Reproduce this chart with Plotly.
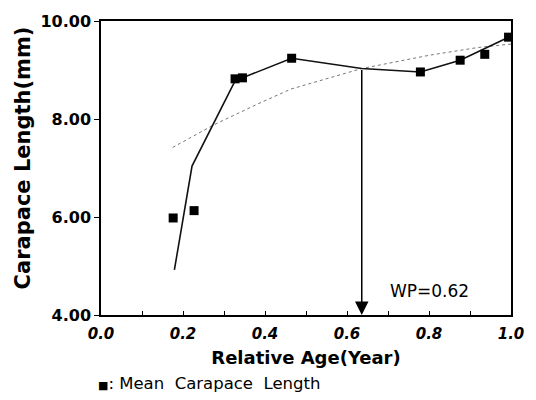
import plotly.graph_objects as go

# Mean carapace length observations
age = [0.176, 0.227, 0.327, 0.345, 0.465, 0.779, 0.876, 0.936, 0.994]
mean_cl = [5.98, 6.13, 8.82, 8.84, 9.24, 8.96, 9.20, 9.32, 9.67]

# Solid piecewise line
line_x = [0.179, 0.222, 0.327, 0.345, 0.465, 0.636, 0.779, 0.876, 0.994]
line_y = [4.92, 7.04, 8.78, 8.84, 9.24, 9.03, 8.96, 9.20, 9.67]

# Dotted growth curve
curve_x = [0.175, 0.275, 0.383, 0.463, 0.636, 0.80, 0.92, 1.0]
curve_y = [7.42, 7.88, 8.31, 8.61, 9.03, 9.30, 9.46, 9.53]

# Arrow / WP
wp_x = 0.636
wp_y_top = 9.03
wp_label = "WP=0.62"

y_ticks = [4.0, 6.0, 8.0, 10.0]
x_ticks = [0.0, 0.2, 0.4, 0.6, 0.8, 1.0]

FONT = "DejaVu Sans, Arial, sans-serif"

fig = go.Figure()
fig.add_trace(go.Scatter(x=curve_x, y=curve_y, mode="lines",
                         line=dict(color="#777777", width=1, dash="dot"),
                         showlegend=False, hoverinfo="skip"))
fig.add_trace(go.Scatter(x=line_x, y=line_y, mode="lines",
                         line=dict(color="#111111", width=1.6),
                         showlegend=False))
fig.add_trace(go.Scatter(x=age, y=mean_cl, mode="markers",
                         marker=dict(symbol="square", size=9, color="#000000"),
                         showlegend=False))

fig.add_annotation(x=wp_x, y=4.0, ax=wp_x, ay=wp_y_top, xref="x", yref="y",
                   axref="x", ayref="y", showarrow=True, arrowhead=2,
                   arrowsize=1.8, arrowwidth=1.5, arrowcolor="#000000", text="")
fig.add_annotation(x=0.8, y=4.5, xref="x", yref="y", text=wp_label,
                   showarrow=False, font=dict(family=FONT, size=17, color="#000"))
fig.add_annotation(x=-0.012, y=-0.233, xref="paper", yref="paper",
                   xanchor="left", yanchor="middle", showarrow=False,
                   text="<span style='font-size:11px'>■</span>: Mean  Carapace  Length",
                   font=dict(family=FONT, size=16.5, color="#000"))
# Y-axis title
fig.add_annotation(x=-0.19, y=0.533, xref="paper", yref="paper", textangle=-90,
                   xanchor="center", yanchor="middle", showarrow=False,
                   text="<b>Carapace Length(mm)</b>",
                   font=dict(family=FONT, size=21, color="#000"))

fig.update_layout(
    width=536, height=400,
    margin=dict(l=101, r=21, t=15, b=85),
    paper_bgcolor="white", plot_bgcolor="white",
    font=dict(family=FONT, color="#000"),
    xaxis=dict(range=[0, 1], tickvals=x_ticks,
               ticktext=[f"<b><i>{v:.1f}</i></b>" for v in x_ticks],
               tickfont=dict(size=15, family=FONT),
               ticklabelstandoff=4,
               showgrid=False, zeroline=False, showline=True, linecolor="#000",
               linewidth=1.5, mirror=True, ticks="inside", ticklen=4,
               tickcolor="#000",
               minor=dict(dtick=0.1, ticks="inside", ticklen=4, tickcolor="#000"),
               title=dict(text="<b>Relative Age(Year)</b>", font=dict(size=18, family=FONT),
                          standoff=10)),
    yaxis=dict(range=[4, 10], tickvals=y_ticks,
               ticktext=[f"<b>{v:.2f}</b>" for v in y_ticks],
               tickfont=dict(size=16, family=FONT),
               showgrid=False, zeroline=False, showline=True, linecolor="#000",
               linewidth=1.5, mirror=True, ticks="outside", ticklen=5,
               tickcolor="#000"),
)

fig.write_html("out.html", config={"displayModeBar": False},
               post_script="document.body.style.margin='0px';")
